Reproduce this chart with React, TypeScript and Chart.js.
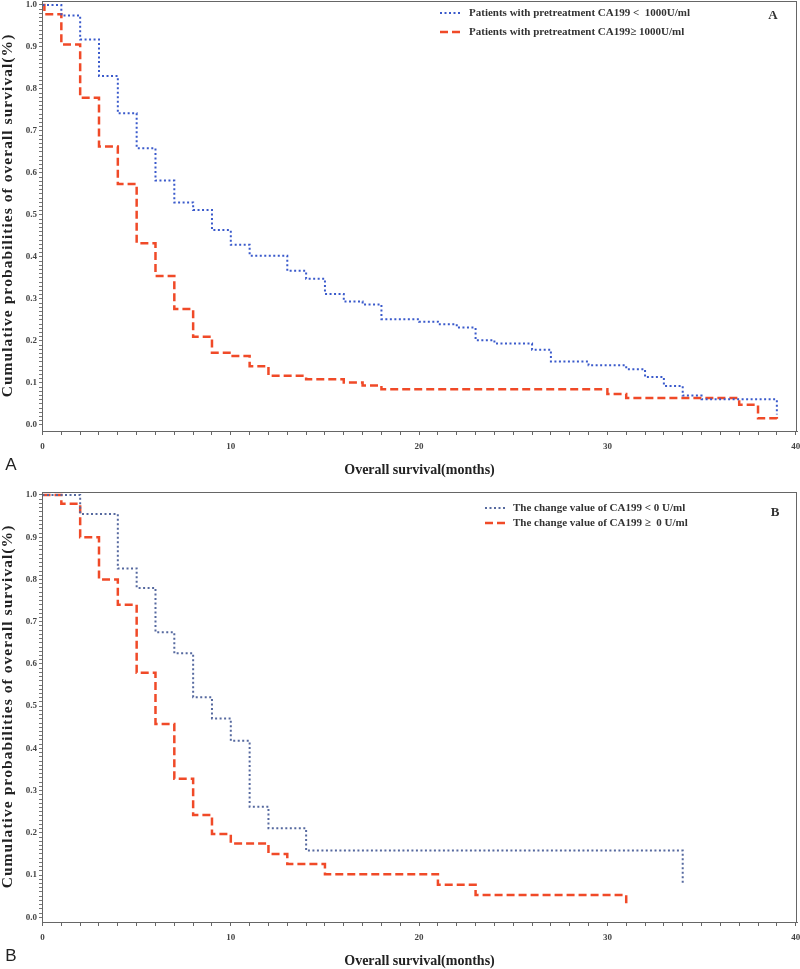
import React, { useEffect, useRef } from 'react';
import { Chart, registerables } from 'chart.js';

Chart.register(...registerables);

// ---- Panel A data (Kaplan-Meier, months vs survival probability) ----
const timesA_low = [0, 1, 2, 3, 4, 5, 6, 7, 8, 9, 10, 11, 13, 14, 15, 16, 17, 18, 20, 21, 22, 23, 24, 26, 27, 29, 31, 32, 33, 34, 35, 39];
const survA_low = [1, 0.975, 0.918, 0.831, 0.742, 0.659, 0.582, 0.53, 0.512, 0.464, 0.429, 0.403, 0.367, 0.348, 0.312, 0.294, 0.287, 0.252, 0.246, 0.24, 0.232, 0.202, 0.194, 0.179, 0.151, 0.142, 0.133, 0.114, 0.093, 0.07, 0.061, 0.025];
const timesA_high = [0, 0.1, 1, 2, 3, 4, 5, 6, 7, 8, 9, 10, 11, 12, 14, 16, 17, 18, 30, 31, 37, 38, 39];
const survA_high = [1, 0.978, 0.906, 0.779, 0.663, 0.574, 0.433, 0.355, 0.276, 0.21, 0.172, 0.164, 0.14, 0.117, 0.109, 0.101, 0.094, 0.085, 0.074, 0.064, 0.048, 0.016, 0.01];

// ---- Panel B data ----
const timesB_neg = [0, 2, 4, 5, 6, 7, 8, 9, 10, 11, 12, 14, 34];
const survB_neg = [1, 0.955, 0.826, 0.78, 0.675, 0.625, 0.521, 0.471, 0.418, 0.262, 0.211, 0.158, 0.079];
const timesB_pos = [0, 1, 2, 3, 4, 5, 6, 7, 8, 9, 10, 12, 13, 15, 21, 23, 31];
const survB_pos = [1, 0.979, 0.9, 0.8, 0.74, 0.579, 0.458, 0.328, 0.242, 0.197, 0.175, 0.15, 0.126, 0.102, 0.077, 0.053, 0.029];

// ---- Labels ----
const legendA = ['Patients with pretreatment CA199 <  1000U/ml', 'Patients with pretreatment CA199\u2265 1000U/ml'];
const legendB = ['The change value of CA199 < 0 U/ml', 'The change value of CA199 \u2265  0 U/ml'];
const xTickLabels = ['0', '10', '20', '30', '40'];
const yTickLabels = ['0.0', '0.1', '0.2', '0.3', '0.4', '0.5', '0.6', '0.7', '0.8', '0.9', '1.0'];
const xTitle = 'Overall survival(months)';
const yTitle = 'Cumulative probabilities of overall survival(%)';

const SERIF = '"Liberation Serif", "Times New Roman", serif';
const RED = '#f04a28';

type PanelCfg = {
  height: number;
  top: number;
  chartTop: number;
  chartBottom: number;
  yMin: number;
  yMax: number;
  series: { t: number[]; s: number[]; color: string; dash: number[]; width: number }[];
  legend: string[];
  legendRows: number[];
  legendSampleX: [number, number];
  legendTextX: number;
  cornerLetter: string;
  cornerPos: [number, number];
  panelLetter: string;
  panelLetterY: number;
};

const panels: PanelCfg[] = [
  {
    height: 484,
    top: 0,
    chartTop: 1,
    chartBottom: 431,
    yMin: -0.0143,
    yMax: 1.0095,
    series: [
      { t: timesA_low, s: survA_low, color: '#3a5acb', dash: [2, 2.5], width: 2 },
      { t: timesA_high, s: survA_high, color: RED, dash: [8, 4], width: 2.5 },
    ],
    legend: legendA,
    legendRows: [13, 32],
    legendSampleX: [440, 462],
    legendTextX: 469,
    cornerLetter: 'A',
    cornerPos: [773, 16],
    panelLetter: 'A',
    panelLetterY: 465,
  },
  {
    height: 485,
    top: 484,
    chartTop: 8,
    chartBottom: 438,
    yMin: -0.0111,
    yMax: 1.0071,
    series: [
      { t: timesB_neg, s: survB_neg, color: '#56699f', dash: [2, 2.5], width: 2 },
      { t: timesB_pos, s: survB_pos, color: RED, dash: [8, 4], width: 2.5 },
    ],
    legend: legendB,
    legendRows: [24, 39],
    legendSampleX: [485, 506],
    legendTextX: 513,
    cornerLetter: 'B',
    cornerPos: [775, 29],
    panelLetter: 'B',
    panelLetterY: 472,
  },
];

const xMinor = Array.from({ length: 41 }, (_, i) => i);
const yMinor = Array.from({ length: 101 }, (_, i) => i / 100);

function drawSpaced(ctx: CanvasRenderingContext2D, text: string, cx: number, cy: number, spacing: number) {
  const chars = Array.from(text);
  const widths = chars.map((c) => ctx.measureText(c).width);
  const total = widths.reduce((a, b) => a + b, 0) + spacing * (chars.length - 1);
  let x = cx - total / 2;
  ctx.textAlign = 'left';
  chars.forEach((c, i) => {
    ctx.fillText(c, x, cy);
    x += widths[i] + spacing;
  });
}

function Panel({ cfg }: { cfg: PanelCfg }) {
  const ref = useRef<HTMLCanvasElement | null>(null);
  useEffect(() => {
    if (!ref.current) return;
    const decor = {
      id: 'decor',
      afterDraw(chart: any) {
        const ctx = chart.ctx as CanvasRenderingContext2D;
        const ca = chart.chartArea;
        ctx.save();
        // frame
        ctx.strokeStyle = '#666';
        ctx.lineWidth = 1;
        ctx.strokeRect(ca.left + 0.5, ca.top + 0.5, ca.right - ca.left - 1, ca.bottom - ca.top);
        // legend
        cfg.series.forEach((sr, i) => {
          const y = cfg.legendRows[i];
          ctx.beginPath();
          ctx.setLineDash(sr.dash);
          ctx.strokeStyle = sr.color;
          ctx.lineWidth = sr.width;
          ctx.moveTo(cfg.legendSampleX[0], y);
          ctx.lineTo(cfg.legendSampleX[1], y);
          ctx.stroke();
          ctx.setLineDash([]);
          ctx.fillStyle = '#333';
          ctx.font = `bold 11px ${SERIF}`;
          ctx.textAlign = 'left';
          ctx.textBaseline = 'middle';
          ctx.fillText(cfg.legend[i], cfg.legendTextX, y);
        });
        // corner letter
        ctx.font = `bold 13px ${SERIF}`;
        ctx.textAlign = 'center';
        ctx.textBaseline = 'middle';
        ctx.fillStyle = '#333';
        ctx.fillText(cfg.cornerLetter, cfg.cornerPos[0], cfg.cornerPos[1]);
        // x title
        ctx.font = `bold 14px ${SERIF}`;
        ctx.fillStyle = '#222';
        ctx.fillText(xTitle, (ca.left + ca.right) / 2, ca.bottom + 39);
        // y title
        ctx.save();
        ctx.translate(8, (ca.top + ca.bottom) / 2);
        ctx.rotate(-Math.PI / 2);
        ctx.font = `bold 15.5px ${SERIF}`;
        drawSpaced(ctx, yTitle, 0, 0, 1.05);
        ctx.restore();
        // panel letter
        ctx.font = `17px "Liberation Sans", Arial, sans-serif`;
        ctx.fillStyle = '#222';
        ctx.textAlign = 'center';
        ctx.fillText(cfg.panelLetter, 11, cfg.panelLetterY);
        ctx.restore();
      },
    };
    const chart = new Chart(ref.current, {
      type: 'line',
      data: {
        datasets: cfg.series.map((sr, i) => ({
          label: cfg.legend[i],
          data: sr.t.map((t, j) => ({ x: t, y: sr.s[j] })),
          borderColor: sr.color,
          borderDash: sr.dash,
          borderWidth: sr.width,
          stepped: 'before' as const,
          pointRadius: 0,
          fill: false,
          tension: 0,
        })),
      },
      options: {
        animation: false,
        responsive: false,
        devicePixelRatio: 1,
        layout: { padding: { top: cfg.chartTop, right: 3, left: 0, bottom: 0 } },
        plugins: { legend: { display: false }, tooltip: { enabled: false } },
        scales: {
          x: {
            type: 'linear',
            min: -0.027,
            max: 40.07,
            afterBuildTicks: (s: any) => {
              s.ticks = xMinor.map((v) => ({ value: v }));
            },
            afterFit: (s: any) => {
              s.height = cfg.height - cfg.chartBottom;
              s.paddingLeft = 0;
              s.paddingRight = 0;
            },
            ticks: {
              autoSkip: false,
              maxRotation: 0,
              padding: 6,
              color: '#444',
              font: { family: SERIF, size: 9, weight: 'bold' },
              callback: (v: any) => (Math.round(v) % 10 === 0 ? xTickLabels[Math.round(v) / 10] : ''),
            },
            grid: { drawOnChartArea: false, tickLength: 4, color: '#666' },
            border: { color: '#666', width: 1 },
          },
          y: {
            type: 'linear',
            min: cfg.yMin,
            max: cfg.yMax,
            afterBuildTicks: (s: any) => {
              s.ticks = yMinor.map((v) => ({ value: v }));
            },
            afterFit: (s: any) => {
              s.width = 42;
              s.paddingTop = 0;
              s.paddingBottom = 0;
            },
            ticks: {
              autoSkip: false,
              padding: 2,
              color: '#444',
              font: { family: SERIF, size: 9, weight: 'bold' },
              callback: (v: any) => {
                const k = Math.round(v * 100);
                return k % 10 === 0 ? yTickLabels[k / 10] : '';
              },
            },
            grid: { drawOnChartArea: false, tickLength: 3, color: '#777' },
            border: { color: '#666', width: 1 },
          },
        },
      } as any,
      plugins: [decor],
    });
    return () => chart.destroy();
  }, [cfg]);
  return (
    <div style={{ position: 'absolute', left: 0, top: cfg.top, width: 800, height: cfg.height }}>
      <canvas ref={ref} width={800} height={cfg.height} style={{ width: 800, height: cfg.height, display: 'block' }} />
    </div>
  );
}

export default function App() {
  return (
    <div style={{ position: 'absolute', left: 0, top: 0, width: 800, height: 969, background: '#fff' }}>
      {panels.map((p, i) => (
        <Panel key={i} cfg={p} />
      ))}
    </div>
  );
}
